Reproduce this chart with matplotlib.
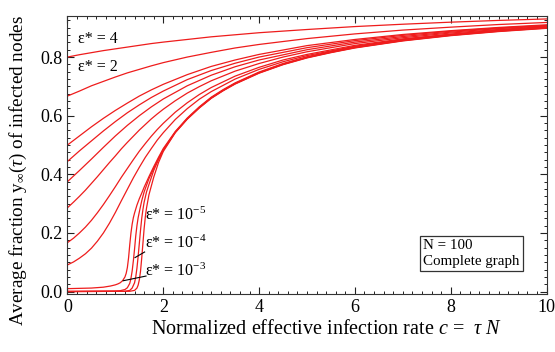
import numpy as np
import matplotlib
matplotlib.use('Agg')
import matplotlib.pyplot as plt
from matplotlib.ticker import MultipleLocator

plt.rcParams['font.family'] = ['Liberation Serif', 'DejaVu Serif']
plt.rcParams['mathtext.fontset'] = 'custom'
plt.rcParams['mathtext.rm'] = 'Liberation Serif'
plt.rcParams['mathtext.it'] = 'Liberation Serif:italic'

# curves with a visible offset at c = 0 (eps* = 4, 2, 1, 0.8, 0.6)
c_grid = [0, 0.25, 0.5, 0.75, 1, 1.25, 1.5, 1.75, 2, 2.5, 3, 3.5, 4, 5, 6, 7, 8, 9, 10]
y_eps4 = [0.800, 0.808, 0.815, 0.822, 0.828, 0.834, 0.840, 0.846, 0.851, 0.860, 0.869, 0.876, 0.883, 0.894, 0.904, 0.912, 0.919, 0.925, 0.930]
y_eps2 = [0.667, 0.684, 0.702, 0.717, 0.732, 0.746, 0.758, 0.770, 0.781, 0.800, 0.816, 0.831, 0.843, 0.863, 0.879, 0.892, 0.902, 0.911, 0.918]
y_eps1 = [0.500, 0.531, 0.562, 0.591, 0.618, 0.643, 0.667, 0.688, 0.707, 0.740, 0.768, 0.790, 0.809, 0.839, 0.860, 0.877, 0.890, 0.901, 0.910]
y_eps08 = [0.444, 0.480, 0.514, 0.548, 0.580, 0.610, 0.637, 0.662, 0.684, 0.723, 0.754, 0.779, 0.800, 0.832, 0.856, 0.874, 0.888, 0.899, 0.908]
y_eps06 = [0.375, 0.413, 0.452, 0.492, 0.531, 0.567, 0.600, 0.630, 0.657, 0.702, 0.738, 0.767, 0.790, 0.825, 0.851, 0.870, 0.885, 0.897, 0.906]

# eps* = 0.4, 0.2, 0.1 bend more, so they are read on a finer grid
c_fine = [0, 0.125, 0.25, 0.375, 0.5, 0.625, 0.75, 0.875, 1, 1.125, 1.25, 1.375, 1.5, 1.625, 1.75, 1.875,
          2, 2.25, 2.5, 2.75, 3, 3.5, 4, 4.5, 5, 6, 7, 8, 9, 10]
y_eps04 = [0.286, 0.305, 0.325, 0.346, 0.369, 0.392, 0.416, 0.440, 0.463, 0.487, 0.509, 0.530, 0.551, 0.570, 0.589, 0.606,
           0.622, 0.651, 0.677, 0.699, 0.719, 0.752, 0.778, 0.800, 0.818, 0.846, 0.866, 0.882, 0.894, 0.904]
y_eps02 = [0.167, 0.182, 0.200, 0.220, 0.243, 0.269, 0.297, 0.327, 0.358, 0.390, 0.420, 0.450, 0.479, 0.505, 0.530, 0.553,
           0.574, 0.612, 0.644, 0.672, 0.696, 0.735, 0.765, 0.790, 0.809, 0.840, 0.862, 0.878, 0.892, 0.902]
y_eps01 = [0.091, 0.101, 0.114, 0.129, 0.148, 0.172, 0.200, 0.233, 0.270, 0.310, 0.349, 0.388, 0.424, 0.458, 0.488, 0.517,
           0.542, 0.587, 0.624, 0.656, 0.682, 0.725, 0.758, 0.784, 0.805, 0.837, 0.860, 0.877, 0.890, 0.901]

# small eps* curves, steep rise near c = 1.2 .. 1.6
c_low1 = [0, 0.25, 0.5, 0.75, 0.9, 1.0, 1.05, 1.1, 1.15, 1.2, 1.225, 1.25, 1.275, 1.3, 1.325, 1.35, 1.375, 1.4,
          1.45, 1.5, 1.55, 1.6, 1.7, 1.8, 1.9, 2.0,
          2.25, 2.5, 2.75, 3, 3.25, 3.5, 4, 4.5, 5, 5.5, 6, 7, 8, 9, 10]
y_low1 = [0.010, 0.011, 0.012, 0.015, 0.019, 0.023, 0.026, 0.030, 0.037, 0.050, 0.062, 0.082, 0.115, 0.160, 0.200, 0.230, 0.252, 0.268,
          0.295, 0.317, 0.336, 0.356, 0.392, 0.426, 0.458, 0.488,
          0.546, 0.592, 0.630, 0.663, 0.689, 0.712, 0.749, 0.778, 0.801, 0.819, 0.835, 0.859, 0.877, 0.891, 0.902]
c_low2 = [0, 1.0, 1.1, 1.2, 1.25, 1.3, 1.325, 1.35, 1.375, 1.4, 1.425, 1.45, 1.475, 1.5, 1.55, 1.6, 1.7, 1.8, 1.9, 2.0,
          2.25, 2.5, 2.75, 3, 3.25, 3.5, 4, 4.5, 5, 5.5, 6, 7, 8, 9, 10]
y_low2 = [0.001, 0.002, 0.003, 0.007, 0.013, 0.028, 0.045, 0.070, 0.105, 0.145, 0.190, 0.225, 0.252, 0.272, 0.310, 0.340, 0.385, 0.420, 0.453, 0.485,
          0.544, 0.590, 0.628, 0.661, 0.687, 0.710, 0.747, 0.776, 0.799, 0.817, 0.833, 0.857, 0.875, 0.889, 0.900]
c_low3 = [0, 1.2, 1.3, 1.35, 1.4, 1.425, 1.45, 1.475, 1.5, 1.525, 1.55, 1.575, 1.6, 1.65, 1.7, 1.8, 1.9, 2.0,
          2.25, 2.5, 2.75, 3, 3.25, 3.5, 4, 4.5, 5, 5.5, 6, 7, 8, 9, 10]
y_low3 = [0.0, 0.001, 0.004, 0.012, 0.030, 0.050, 0.080, 0.120, 0.165, 0.210, 0.250, 0.280, 0.305, 0.340, 0.365, 0.413, 0.450, 0.482,
          0.543, 0.589, 0.627, 0.660, 0.686, 0.709, 0.746, 0.775, 0.798, 0.816, 0.832, 0.856, 0.874, 0.888, 0.899]
c_low4 = [0, 1.3, 1.4, 1.45, 1.475, 1.5, 1.525, 1.55, 1.575, 1.6, 1.625, 1.65, 1.7, 1.8, 1.9, 2.0,
          2.25, 2.5, 2.75, 3, 3.25, 3.5, 4, 4.5, 5, 5.5, 6, 7, 8, 9, 10]
y_low4 = [0.0, 0.001, 0.004, 0.012, 0.022, 0.040, 0.070, 0.115, 0.165, 0.215, 0.255, 0.285, 0.330, 0.390, 0.440, 0.478,
          0.542, 0.588, 0.626, 0.659, 0.685, 0.708, 0.745, 0.774, 0.797, 0.815, 0.831, 0.855, 0.873, 0.887, 0.898]

fig = plt.figure(figsize=(5.55, 3.52), dpi=100)
ax = fig.add_axes([0.1216, 0.1650, 0.8631, 0.7895])

red = '#ee1c1c'
for y in [y_eps4, y_eps2, y_eps1, y_eps08, y_eps06]:
    ax.plot(c_grid, y, color=red, lw=0.9)
for y in [y_eps04, y_eps02, y_eps01]:
    ax.plot(c_fine, y, color=red, lw=0.9)
ax.plot(c_low1, y_low1, color=red, lw=0.9)
ax.plot(c_low2, y_low2, color=red, lw=0.9)
ax.plot(c_low3, y_low3, color=red, lw=0.9)
ax.plot(c_low4, y_low4, color=red, lw=0.9)

ax.set_xlim(0, 10)
ax.set_ylim(-0.008, 0.94)
ax.xaxis.set_major_locator(MultipleLocator(2))
ax.xaxis.set_minor_locator(MultipleLocator(0.2))
ax.yaxis.set_minor_locator(MultipleLocator(0.025))
ax.set_yticks([0, 0.2, 0.4, 0.6, 0.8])
ax.set_yticklabels(['0.0', '0.2', '0.4', '0.6', '0.8'])
ax.tick_params(which='both', direction='in', top=True, right=True, labelsize=13, color='#222222')
ax.tick_params(which='major', length=5, width=0.8)
ax.tick_params(which='minor', length=2.5, width=0.7)
for s in ax.spines.values():
    s.set_color('#333333')

ax.set_xlabel(r'Normalized effective infection rate $c$ =  $\tau\ N$', fontsize=14.5, labelpad=3)
ax.xaxis.label.set_x(0.54)
ax.set_ylabel(r'Average fraction y$_\infty$($\tau$) of infected nodes', fontsize=13.8, labelpad=8)
ax.yaxis.label.set_y(0.445)

ax.text(0.21, 0.861, 'ε* = 4', fontsize=11.5, va='center')
ax.text(0.21, 0.767, 'ε* = 2', fontsize=11.5, va='center')
ax.text(1.62, 0.261, r'ε* = 10$^{\mathregular{-5}}$', fontsize=11.5, va='center')
ax.text(1.62, 0.166, r'ε* = 10$^{\mathregular{-4}}$', fontsize=11.5, va='center')
ax.text(1.62, 0.068, r'ε* = 10$^{\mathregular{-3}}$', fontsize=11.5, va='center')
ax.plot([1.61, 1.41], [0.135, 0.116], color='black', lw=0.8)
ax.plot([1.64, 1.165], [0.053, 0.037], color='black', lw=0.8)

ax.text(7.43, 0.131, 'N = 100\nComplete graph', fontsize=10.8, va='center', ha='left',
        linespacing=1.3,
        bbox=dict(boxstyle='square,pad=0.2', fc='white', ec='#333333', lw=0.9))

fig.savefig('out.png', dpi=100)
